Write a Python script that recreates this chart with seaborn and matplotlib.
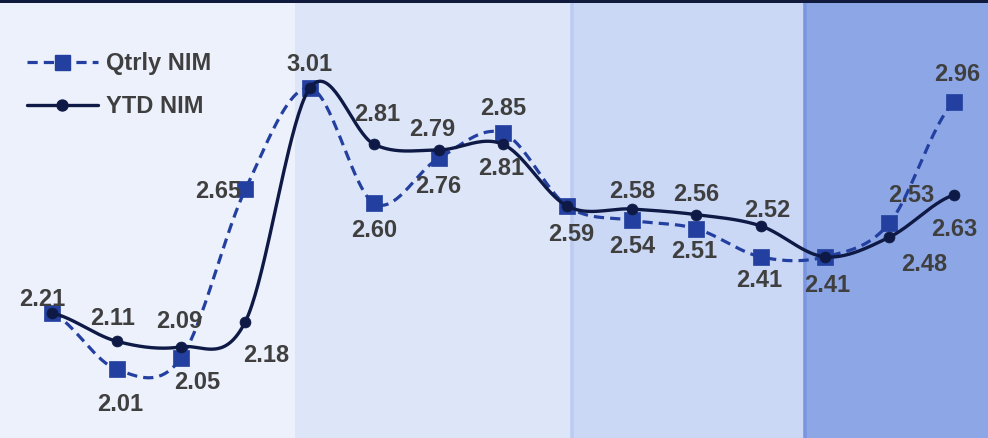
import numpy as np
import pandas as pd
import matplotlib
matplotlib.use("Agg")
import matplotlib.pyplot as plt
import seaborn as sns
from matplotlib.lines import Line2D
from matplotlib.patches import Rectangle

# ---- data ----
periods = list(range(15))
qtrly_nim = [2.21, 2.01, 2.05, 2.65, 3.01, 2.60, 2.76, 2.85, 2.59, 2.54, 2.51, 2.41, 2.41, 2.53, 2.96]
ytd_nim = [2.21, 2.11, 2.09, 2.18, 3.01, 2.81, 2.79, 2.81, 2.59, 2.58, 2.56, 2.52, 2.41, 2.48, 2.63]
series_names = ["Qtrly NIM", "YTD NIM"]

# ---- style / layout ----
band_edges = [-0.81, 3.77, 8.07, 11.69, 14.53]
band_colors = ["#edf1fc", "#dde5f8", "#cad7f5", "#8da7e6"]
edge_lines = [(8.07, "#bccbf2"), (11.69, "#7a96e0")]
q_color = "#2340a0"
y_color = "#0e1a45"
txt_color = "#3f3f3f"
q_off = [(-10, 16), (4, -33), (16, -22), (-27, 0), (0, 26), (0, -25), (0, -26), (0, 27),
         (4, -26), (0, -24), (-2, -21), (-1, -22), (2, -27), (22, 30), (3, 30)]
y_off = [(-10, 16), (-4, 25), (-2, 27), (21, -32), (0, 26), (3, 32), (-6, 22), (-2, -22),
         (4, -26), (0, 20), (0, 22), (7, 17), (2, -27), (35, -25), (0, -33)]
label_shift = -2


def smooth(vals, n=40):
    y = np.asarray(vals, float)
    yp = np.r_[y[0], y, y[-1]]
    xs, ys = [], []
    t = np.linspace(0, 1, n, endpoint=False)
    h00 = 2 * t**3 - 3 * t**2 + 1
    h10 = t**3 - 2 * t**2 + t
    h01 = -2 * t**3 + 3 * t**2
    h11 = t**3 - t**2
    for i in range(len(y) - 1):
        p0, p1, p2, p3 = yp[i], yp[i + 1], yp[i + 2], yp[i + 3]
        m1 = (p2 - p0) / 2
        m2 = (p3 - p1) / 2
        ys.append(h00 * p1 + h10 * m1 + h01 * p2 + h11 * m2)
        xs.append(i + t)
    xs.append([len(y) - 1])
    ys.append([y[-1]])
    return np.concatenate(xs), np.concatenate(ys)


sns.set_theme(style="white")
plt.rcParams["font.family"] = ["Liberation Sans", "DejaVu Sans"]

fig = plt.figure(figsize=(9.88, 4.38), dpi=100)
ax = fig.add_axes([0, 0, 1, 1])
ax.set_xlim(band_edges[0], band_edges[-1])
ax.set_ylim(1.766, 3.323)
ax.set_axis_off()

for i, c in enumerate(band_colors):
    ax.axvspan(band_edges[i], band_edges[i + 1], color=c, lw=0, zorder=0)
for xv, c in edge_lines:
    ax.axvline(xv, color=c, lw=2.6, zorder=0.5)
ax.add_patch(Rectangle((0, 1 - 3 / 438), 1, 3 / 438, transform=ax.transAxes,
                       color="#0f1a3d", lw=0, zorder=10, clip_on=False))

qx, qy = smooth(qtrly_nim)
yx, yy = smooth(ytd_nim)
dash = (0, (3.2, 1.9))
sns.lineplot(x=qx, y=qy, ax=ax, color=q_color, lw=2.3, linestyle=dash, sort=False,
             estimator=None, zorder=2)
sns.scatterplot(x=periods, y=qtrly_nim, ax=ax, marker="s", s=118, color=q_color,
                edgecolor=q_color, linewidth=0.5, zorder=3)
sns.lineplot(x=yx, y=yy, ax=ax, color=y_color, lw=2.4, sort=False, estimator=None, zorder=4)
sns.scatterplot(x=periods, y=ytd_nim, ax=ax, marker="o", s=62, color=y_color,
                edgecolor=y_color, linewidth=0.5, zorder=5)

tkw = dict(textcoords="offset pixels", ha="center", va="center", fontsize=17,
           fontweight="bold", color=txt_color, zorder=6)
for i, v in enumerate(qtrly_nim):
    dx, dy = q_off[i]
    ax.annotate(f"{v:.2f}", xy=(periods[i], v), xytext=(dx, dy + label_shift), **tkw)
for i, v in enumerate(ytd_nim):
    if v == qtrly_nim[i]:
        continue
    dx, dy = y_off[i]
    ax.annotate(f"{v:.2f}", xy=(periods[i], v), xytext=(dx, dy + label_shift), **tkw)

handles = [
    Line2D([], [], color=q_color, lw=2.3, linestyle=dash, marker="s", markersize=10.8),
    Line2D([], [], color=y_color, lw=2.4, marker="o", markersize=7.9),
]
leg = ax.legend(handles, series_names, loc="upper left", bbox_to_anchor=(27 / 988, 1 - 52 / 438),
                frameon=False, borderpad=0, borderaxespad=0, handlelength=3.0,
                handletextpad=0.35, labelspacing=0.85,
                prop=dict(family="Liberation Sans", weight="bold", size=17))
for t in leg.get_texts():
    t.set_color(txt_color)

fig.savefig("out.png", dpi=100)
